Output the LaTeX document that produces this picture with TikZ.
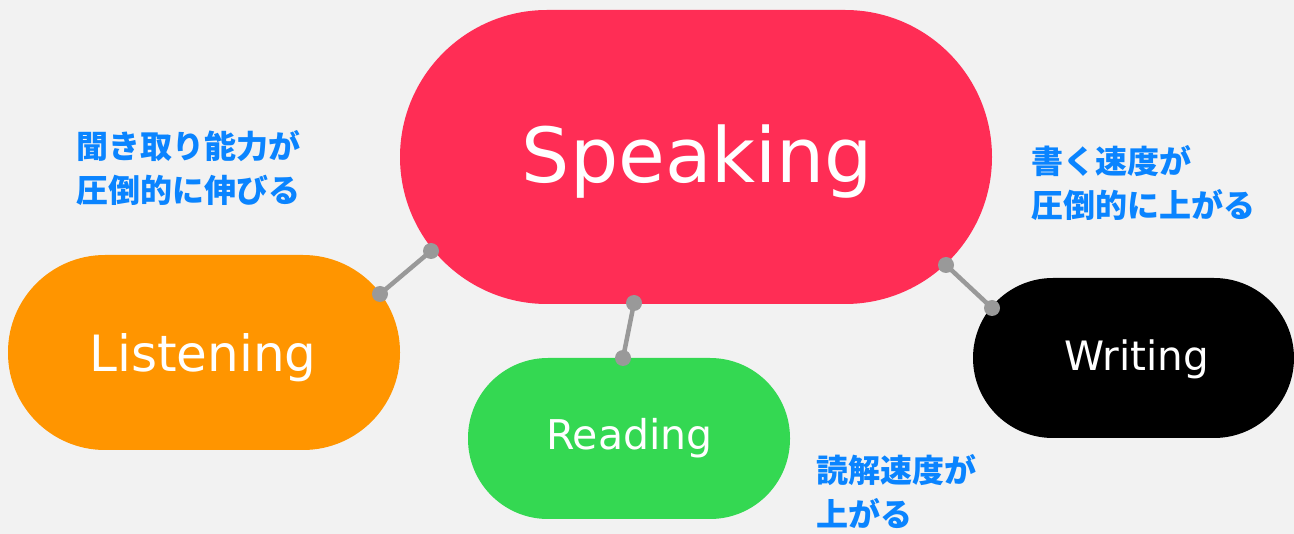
\documentclass[tikz,border=0pt]{standalone}
\usepackage{fontspec}
\setmainfont{DejaVu Sans}
\newfontfamily\cjk{Noto Sans CJK JP}
\definecolor{bg}{HTML}{F2F2F2}
\definecolor{cred}{HTML}{FF2D55}
\definecolor{corange}{HTML}{FF9500}
\definecolor{cgreen}{HTML}{34D852}
\definecolor{cblue}{HTML}{0A84FF}
\definecolor{cgray}{HTML}{999999}
\begin{document}
\begin{tikzpicture}[x=1pt,y=-1pt,
  lbl/.style={text=white,inner sep=0pt,anchor=base},
  note/.style={text=cblue,align=left,anchor=north west,inner sep=0pt,font=\cjk\bfseries\fontsize{32}{44.5}\selectfont},
  link/.style={draw=cgray,line width=4.5pt},
  dotfill/.style={fill=cgray}]
\fill[bg] (0,0) rectangle (1294,534);
\useasboundingbox (0,0) rectangle (1294,534);
% shapes
\fill[cred,rounded corners=147pt] (400,10) rectangle (992,304);
\fill[corange,rounded corners=97pt] (8,255) rectangle (400,450);
\fill[cgreen,rounded corners=80pt] (468,358) rectangle (790,519);
\fill[black,rounded corners=80pt] (973,278) rectangle (1294,438);
% labels
\node[lbl,font=\fontsize{76}{80}\selectfont] (speaking) at (697.5,183) {Speaking};
\node[lbl,font=\fontsize{50}{54}\selectfont] (listening) at (203,372) {Listening};
\node[lbl,font=\fontsize{41}{45}\selectfont] (reading) at (629.5,450) {Reading};
\node[lbl,font=\fontsize{40.5}{45}\selectfont] (writing) at (1136.5,371) {Writing};
% connectors
\coordinate (s1) at (431,251); \coordinate (l1) at (380,294);
\coordinate (s2) at (634,303); \coordinate (r1) at (623,358);
\coordinate (s3) at (946,265); \coordinate (w1) at (992,308);
\draw[link] (s1) -- (l1);
\draw[link] (s2) -- (r1);
\draw[link] (s3) -- (w1);
\foreach \p in {s1,l1,s2,r1,s3,w1} \fill[dotfill] (\p) circle (8);
% notes
\node[note] (n1) at (76,130) {聞き取り能力が\\圧倒的に伸びる};
\node[note] (n2) at (1031,145) {書く速度が\\圧倒的に上がる};
\node[note] (n3) at (816,454) {読解速度が\\上がる};
\end{tikzpicture}
\end{document}
